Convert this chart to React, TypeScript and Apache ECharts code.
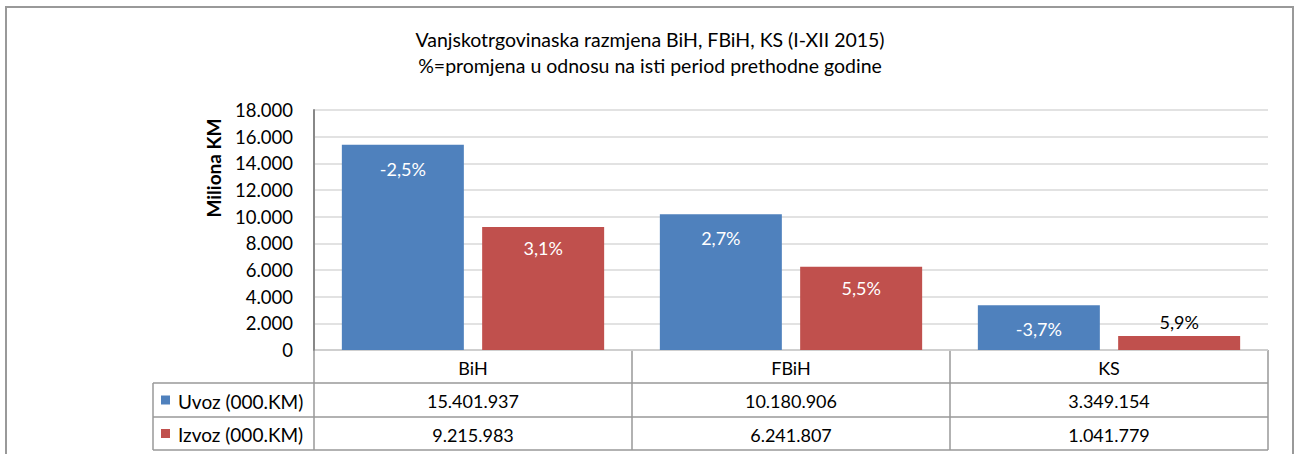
import React, { useEffect, useRef } from "react";
import * as echarts from "echarts";

const categories = ["BiH", "FBiH", "KS"];
const seriesNames = ["Uvoz (000.KM)", "Izvoz (000.KM)"];
// values in millions KM (table shows thousands KM)
const uvoz = [15401.937, 10180.906, 3349.154];
const izvoz = [9215.983, 6241.807, 1041.779];
const uvozChange = [-2.5, 2.7, -3.7];
const izvozChange = [3.1, 5.5, 5.9];
const yMin = 0;
const yMax = 18000;
const yInterval = 2000;
const titleLines = [
  "Vanjskotrgovinaska razmjena BiH, FBiH, KS (I-XII 2015)",
  "%=promjena u odnosu na isti period prethodne godine",
];
const yAxisName = "Miliona KM";

const BLUE = "#4F81BD";
const RED = "#C0504D";
const FONT = "Lato";

function dots(n: number): string {
  const s = String(Math.round(n));
  return s.replace(/\B(?=(\d{3})+(?!\d))/g, ".");
}
function pct(v: number): string {
  return v.toFixed(1).replace(".", ",") + "%";
}

export default function App() {
  const ref = useRef<HTMLDivElement>(null);
  useEffect(() => {
    document.body.style.margin = "0";
    const chart = echarts.init(ref.current!, null, { renderer: "svg" });

    const W = 1296;
    const gl = 314, gr = 1268, gt = 110, gb = 350;
    const rows = [350, 383, 417, 450];
    const tableLeft = 153;
    const catW = (gr - gl) / categories.length;
    const lineStyle = { stroke: "#999999", lineWidth: 1.5 };

    const graphic: any[] = [];
    // outer frame
    graphic.push({
      type: "rect",
      shape: { x: 6, y: 7, width: 1287, height: 460 },
      style: { fill: "none", stroke: "#999999", lineWidth: 2 },
      silent: true,
    });
    // title
    titleLines.forEach((t, i) => {
      graphic.push({
        type: "text",
        x: 650,
        y: 39 + i * 26,
        style: { text: t, fontFamily: FONT, fontSize: 19.5, fill: "#000", align: "center", verticalAlign: "middle" },
      });
    });
    // y axis name
    graphic.push({
      type: "text",
      x: 213,
      y: 168,
      rotation: Math.PI / 2,
      style: { text: yAxisName, fontFamily: FONT, fontSize: 19, fontWeight: "bold", fill: "#000", align: "center", verticalAlign: "middle" },
    });
    // table horizontal lines
    graphic.push({ type: "line", shape: { x1: gl, y1: rows[0], x2: gr, y2: rows[0] }, style: lineStyle });
    for (let i = 1; i < rows.length; i++) {
      graphic.push({ type: "line", shape: { x1: tableLeft, y1: rows[i], x2: gr, y2: rows[i] }, style: lineStyle });
    }
    // vertical lines
    graphic.push({ type: "line", shape: { x1: tableLeft, y1: rows[1], x2: tableLeft, y2: rows[3] }, style: lineStyle });
    for (let k = 0; k <= categories.length; k++) {
      const x = gl + catW * k;
      graphic.push({ type: "line", shape: { x1: x, y1: rows[0], x2: x, y2: rows[3] }, style: lineStyle });
    }
    // header labels and values
    const rowData = [uvoz, izvoz];
    categories.forEach((c, k) => {
      const cx = gl + catW * (k + 0.5);
      graphic.push({
        type: "text", x: cx, y: (rows[0] + rows[1]) / 2 + 1,
        style: { text: c, fontFamily: FONT, fontSize: 18, fill: "#000", align: "center", verticalAlign: "middle" },
      });
      rowData.forEach((arr, r) => {
        graphic.push({
          type: "text", x: cx, y: (rows[r + 1] + rows[r + 2]) / 2 + 1,
          style: { text: dots(arr[k] * 1000), fontFamily: FONT, fontSize: 18, fill: "#000", align: "center", verticalAlign: "middle" },
        });
      });
    });
    // legend cells
    [BLUE, RED].forEach((col, r) => {
      const cy = (rows[r + 1] + rows[r + 2]) / 2;
      graphic.push({ type: "rect", shape: { x: 161, y: cy - 4.5, width: 9, height: 9 }, style: { fill: col } });
      graphic.push({
        type: "text", x: 178, y: cy + 1,
        style: { text: seriesNames[r], fontFamily: FONT, fontSize: 19, fill: "#000", align: "left", verticalAlign: "middle" },
      });
    });

    chart.setOption({
      animation: false,
      backgroundColor: "#fff",
      grid: { left: gl, right: W - gr, top: gt, bottom: 454 - gb, containLabel: false },
      xAxis: {
        type: "category",
        data: categories,
        axisLine: { show: false },
        axisTick: { show: false },
        axisLabel: { show: false },
      },
      yAxis: {
        type: "value",
        min: yMin,
        max: yMax,
        interval: yInterval,
        axisLine: { show: true, lineStyle: { color: "#888888", width: 2 } },
        axisTick: { show: false },
        axisLabel: {
          formatter: (v: number) => dots(v),
          fontFamily: FONT,
          fontSize: 18.5,
          color: "#000",
          margin: 21,
        },
        splitLine: { lineStyle: { color: "#D9D9D9", width: 1.5 } },
      },
      series: [
        {
          name: seriesNames[0],
          type: "bar",
          data: uvoz,
          barWidth: 122,
          barGap: "15%",
          itemStyle: { color: BLUE },
          label: {
            show: true,
            position: "insideTop",
            distance: 15,
            color: "#fff",
            fontFamily: FONT,
            fontSize: 18,
            formatter: (p: any) => pct(uvozChange[p.dataIndex]),
          },
        },
        {
          name: seriesNames[1],
          type: "bar",
          data: izvoz.map((v, i) =>
            i === izvoz.length - 1
              ? { value: v, label: { position: "top", color: "#000", distance: 5 } }
              : v
          ),
          barWidth: 122,
          barGap: "15%",
          itemStyle: { color: RED },
          label: {
            show: true,
            position: "insideTop",
            distance: 12,
            color: "#fff",
            fontFamily: FONT,
            fontSize: 18,
            formatter: (p: any) => pct(izvozChange[p.dataIndex]),
          },
        },
      ],
      graphic,
    });
    return () => chart.dispose();
  }, []);
  return <div ref={ref} style={{ width: 1296, height: 454 }} />;
}
